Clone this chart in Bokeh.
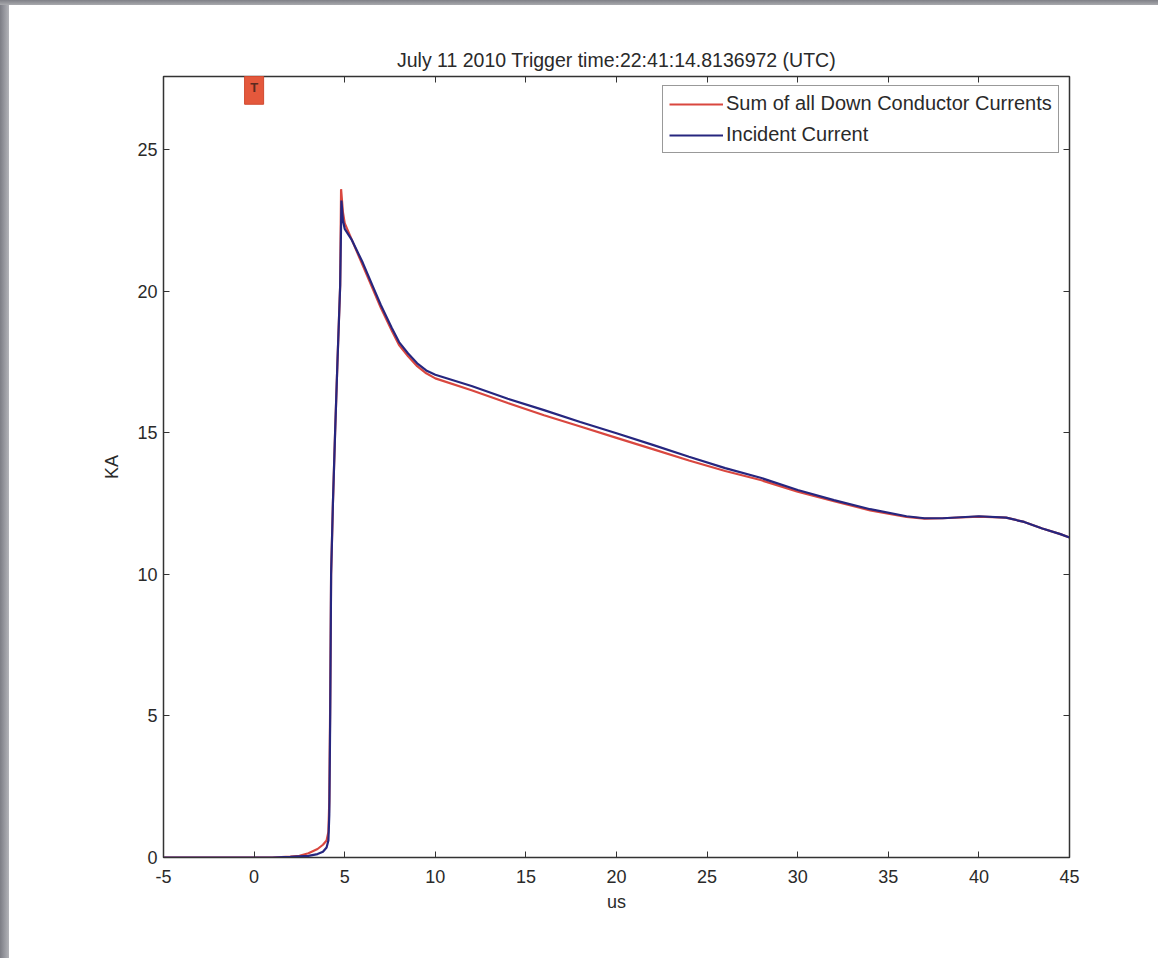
from bokeh.plotting import figure
from bokeh.models import Range1d, LinearAxis, Legend, LegendItem, FixedTicker, Div
from bokeh.layouts import row, column
from bokeh.core.properties import value
from bokeh.embed import file_html
from bokeh.resources import INLINE

# ---- data ----
t_incident = [-5, -2, 0, 1, 2, 2.5, 3, 3.5, 3.8, 4.0, 4.1, 4.15, 4.2, 4.25, 4.35, 4.47, 4.6, 4.75, 4.82,
              4.9, 5.0, 5.4, 6.0, 6.6, 7.0, 7.6, 8.0, 8.5, 9.0, 9.5, 10, 12, 14, 16, 18, 20, 22, 24,
              26, 28, 30, 32, 34, 36, 37, 38, 40, 41.5, 42.5, 43.5, 44.5, 45]
i_incident = [0.0, 0.0, 0.0, 0.0, 0.02, 0.04, 0.06, 0.12, 0.2, 0.35, 0.6, 1.5, 5.0, 10.0, 12.5, 15.0, 17.5, 20.2, 23.2,
              22.5, 22.2, 21.8, 21.0, 20.1, 19.5, 18.7, 18.2, 17.8, 17.45, 17.2, 17.05, 16.65, 16.2, 15.8, 15.38, 14.98, 14.57, 14.15,
              13.75, 13.4, 12.98, 12.62, 12.3, 12.05, 11.98, 11.98, 12.05, 12.0, 11.85, 11.62, 11.42, 11.3]

t_sum = [-5, -2, 0, 1, 2, 2.5, 3, 3.5, 3.8, 4.0, 4.1, 4.15, 4.2, 4.25, 4.35, 4.47, 4.6, 4.75, 4.8,
         4.9, 5.0, 5.4, 6.0, 6.6, 7.0, 7.6, 8.0, 8.5, 9.0, 9.5, 10, 12, 14, 16, 18, 20, 22, 24,
         26, 28, 30, 32, 34, 36, 37, 38, 40, 41.5, 42.5, 43.5, 44.5, 45]
i_sum = [0.0, 0.0, 0.0, 0.0, 0.03, 0.06, 0.15, 0.3, 0.45, 0.6, 0.9, 2.0, 5.5, 10.0, 12.5, 15.0, 17.5, 20.2, 23.6,
         22.8, 22.4, 21.8, 20.9, 20.0, 19.4, 18.6, 18.1, 17.7, 17.35, 17.1, 16.92, 16.5, 16.05, 15.62, 15.22, 14.82, 14.42, 14.02,
         13.65, 13.32, 12.92, 12.58, 12.26, 12.03, 11.97, 11.98, 12.04, 12.0, 11.85, 11.62, 11.42, 11.3]

trigger_t = [0.0]
trigger_top = [27.58]
trigger_bottom = [26.6]
trigger_label = ["T"]

x_ticks = [-5, 0, 5, 10, 15, 20, 25, 30, 35, 40, 45]
x_tick_labels = ["-5", "0", "5", "10", "15", "20", "25", "30", "35", "40", "45"]
y_ticks = [0, 5, 10, 15, 20, 25]

title_text = "July 11 2010 Trigger time:22:41:14.8136972 (UTC)"
series_names = ["Sum of all Down Conductor Currents", "Incident Current"]

FONT = "Liberation Sans"
TXT = "#2a2a2a"
LINE = "#333333"

p = figure(width=1149, height=953, frame_width=906, frame_height=781,
           min_border_left=154, min_border_right=89, min_border_top=71, min_border_bottom=101,
           output_backend="svg", toolbar_location=None,
           x_range=Range1d(-5, 45), y_range=Range1d(0, 27.58))
p.title.text = title_text
p.title.align = "center"
p.title.text_font = FONT
p.title.text_font_size = "19.5px"
p.title.text_font_style = "normal"
p.title.text_color = TXT
p.title.offset = 0
p.title.standoff = 11

p.background_fill_color = "white"
p.border_fill_color = "white"
p.outline_line_color = LINE
p.outline_line_width = 1.5
p.grid.visible = False

for ax, ticks in ((p.xaxis[0], x_ticks), (p.yaxis[0], y_ticks)):
    ax.ticker = FixedTicker(ticks=ticks)
    ax.major_tick_in = 6
    ax.major_tick_out = 0
    ax.minor_tick_line_color = None
    ax.axis_line_color = LINE
    ax.major_tick_line_color = LINE
    ax.major_label_text_font = FONT
    ax.major_label_text_font_size = "18px"
    ax.major_label_text_color = TXT
    ax.axis_label_text_font = FONT
    ax.axis_label_text_font_size = "18px"
    ax.axis_label_text_font_style = "normal"
    ax.axis_label_text_color = TXT

p.xaxis[0].major_label_overrides = {t: s for t, s in zip(x_ticks, x_tick_labels)}
p.xaxis[0].axis_label = "us"
p.xaxis[0].major_label_standoff = 12
p.xaxis[0].axis_label_standoff = 6
p.yaxis[0].axis_label = "KA"
p.yaxis[0].major_label_standoff = 6
p.yaxis[0].axis_label_standoff = 12

top_ax = LinearAxis(ticker=FixedTicker(ticks=x_ticks), major_label_text_font_size="1px",
                    major_label_text_color=None, major_label_standoff=0,
                    major_tick_in=6, major_tick_out=0, minor_tick_line_color=None,
                    axis_line_color=LINE, major_tick_line_color=LINE)
right_ax = LinearAxis(ticker=FixedTicker(ticks=y_ticks), major_label_text_font_size="1px",
                      major_label_text_color=None, major_label_standoff=0,
                      major_tick_in=6, major_tick_out=0, minor_tick_line_color=None,
                      axis_line_color=LINE, major_tick_line_color=LINE)
p.add_layout(top_ax, "above")
p.add_layout(right_ax, "right")

r_sum = p.line(t_sum, i_sum, line_color="#d9473f", line_width=2.2)
r_inc = p.line(t_incident, i_incident, line_color="#26267f", line_width=2.2)

p.vbar(x=trigger_t, top=trigger_top, bottom=trigger_bottom, width=1.05,
       fill_color="#e4583c", line_color="#d04a30", level="overlay")
p.text(x=trigger_t, y=trigger_top, text=trigger_label, text_font=value(FONT),
       text_font_size="13px", text_font_style="bold", text_color="#5a2a20",
       text_align="center", text_baseline="top", y_offset=3, level="overlay")

legend = Legend(items=[LegendItem(label=series_names[0], renderers=[r_sum]),
                       LegendItem(label=series_names[1], renderers=[r_inc])],
                location=(499, 704), orientation="vertical")
legend.label_text_font = FONT
legend.label_text_font_size = "20px"
legend.label_text_color = TXT
legend.border_line_color = LINE
legend.border_line_width = 1.5
legend.background_fill_alpha = 1
legend.glyph_width = 54
legend.glyph_height = 22
legend.label_height = 22
legend.spacing = 8
legend.padding = 6
legend.margin = 0
legend.label_standoff = 3
p.add_layout(legend, "center")

top_strip = Div(text="", width=1158, height=5, margin=0,
                styles={"background": "linear-gradient(to bottom, #7f8087, #a9aaae)"})
left_strip = Div(text="", width=9, height=953, margin=0,
                 styles={"background": "linear-gradient(to right, #7c7d85, #b3b4b9)"})
layout = column(top_strip, row(left_strip, p, spacing=0), spacing=0)

open("out.html", "w").write(file_html(layout, INLINE))
